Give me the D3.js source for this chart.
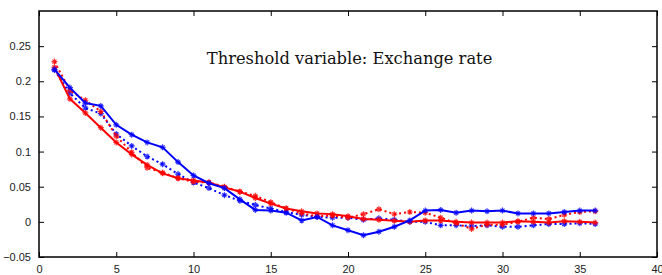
<!DOCTYPE html>
<meta charset="utf-8">
<script src="https://d3js.org/d3.v7.min.js"></script>
<style>
body { margin: 0; background: #fff; }
.tick text { font-family: "Liberation Sans", Arial, sans-serif; font-size: 11px; fill: #222; }
</style>
<div id="chart"></div>
<script>
var horizons = d3.range(1, 37);
var redSolid = [0.220, 0.175, 0.155, 0.134, 0.113, 0.096, 0.081, 0.069, 0.062, 0.059,
  0.056, 0.049, 0.043, 0.034, 0.026, 0.019, 0.015, 0.012, 0.011, 0.008,
  0.004, 0.003, 0.0015, 0.0, 0.002, 0.002, 0.0, -0.001, -0.001, -0.001,
  0.001, 0.0, -0.001, 0.001, 0.0, -0.001];
var redDotted = [0.228, 0.187, 0.173, 0.157, 0.122, 0.099, 0.077, 0.070, 0.062, 0.057,
  0.056, 0.050, 0.043, 0.037, 0.028, 0.019, 0.012, 0.008, 0.009, 0.006,
  0.011, 0.018, 0.011, 0.014, 0.013, 0.006, -0.002, -0.010, -0.004, -0.004,
  0.000, 0.006, 0.004, 0.010, 0.014, 0.015];
var blueSolid = [0.217, 0.191, 0.169, 0.165, 0.138, 0.124, 0.113, 0.106, 0.085, 0.066,
  0.055, 0.048, 0.032, 0.017, 0.016, 0.013, 0.002, 0.007, -0.005, -0.012,
  -0.019, -0.014, -0.007, 0.002, 0.016, 0.017, 0.013, 0.016, 0.015, 0.016,
  0.012, 0.012, 0.012, 0.014, 0.016, 0.016];
var blueDotted = [0.216, 0.183, 0.162, 0.154, 0.125, 0.108, 0.093, 0.082, 0.068, 0.056,
  0.048, 0.038, 0.030, 0.024, 0.019, 0.014, 0.010, 0.007, 0.006, 0.006,
  0.003, 0.005, 0.003, 0.000, 0.000, -0.005, -0.005, -0.006, -0.005, -0.007,
  -0.007, -0.005, -0.003, -0.003, -0.002, -0.003];
var xTicks = [0, 5, 10, 15, 20, 25, 30, 35, 40];
var yTicks = [-0.05, 0, 0.05, 0.1, 0.15, 0.2, 0.25];
var title = "Threshold variable: Exchange rate";

var series = [
  {values: blueDotted, color: "#0000ff", dash: "2,3"},
  {values: redDotted, color: "#ff0000", dash: "2,3"},
  {values: redSolid, color: "#ff0000", dash: null},
  {values: blueSolid, color: "#0000ff", dash: null}
];

var margin = {top: 11, right: 5, bottom: 18, left: 39},
    width = 662 - margin.left - margin.right,
    height = 275 - margin.top - margin.bottom;

var svg = d3.select("#chart").append("svg")
    .attr("width", 662)
    .attr("height", 275)
  .append("g")
    .attr("transform", "translate(" + margin.left + "," + margin.top + ")");

var x = d3.scaleLinear().domain([0, 40]).range([0, width]);
var y = d3.scaleLinear().domain([-0.05, 0.3]).range([height, 0]);
var fmt = function(d) { return d3.format("")(+d.toFixed(2)); };

// axes with inward ticks on all sides
svg.append("g")
    .attr("transform", "translate(0," + height + ")")
    .call(d3.axisBottom(x).tickValues(xTicks).tickSizeInner(-5).tickSizeOuter(0).tickPadding(8).tickFormat(fmt))
    .call(function(g) { g.select(".domain").remove(); });
svg.append("g")
    .call(d3.axisTop(x).tickValues(xTicks).tickSizeInner(-5).tickSizeOuter(0).tickFormat(""))
    .call(function(g) { g.select(".domain").remove(); });
svg.append("g")
    .call(d3.axisLeft(y).tickValues(yTicks).tickSizeInner(-5).tickSizeOuter(0).tickPadding(8).tickFormat(fmt))
    .call(function(g) { g.select(".domain").remove(); });
svg.append("g")
    .attr("transform", "translate(" + width + ",0)")
    .call(d3.axisRight(y).tickValues(yTicks).tickSizeInner(-5).tickSizeOuter(0).tickFormat(""))
    .call(function(g) { g.select(".domain").remove(); });
svg.selectAll(".tick line").attr("stroke", "#000");

svg.append("rect")
    .attr("width", width)
    .attr("height", height)
    .attr("fill", "none")
    .attr("stroke", "#000")
    .attr("stroke-width", 1.5);

svg.append("text")
    .attr("x", x(20.1))
    .attr("y", y(0.25) + 18)
    .attr("text-anchor", "middle")
    .style("font-family", "'DejaVu Serif', serif")
    .style("font-size", "16.3px")
    .style("fill", "#111")
    .text(title);

var line = d3.line()
    .x(function(d, i) { return x(horizons[i]); })
    .y(function(d) { return y(d); });

series.forEach(function(s) {
  svg.append("path")
      .datum(s.values)
      .attr("fill", "none")
      .attr("stroke", s.color)
      .attr("stroke-width", 2)
      .attr("stroke-dasharray", s.dash)
      .attr("d", line);
  svg.append("g").selectAll("path")
    .data(s.values)
    .enter()
    .append("path")
      .attr("transform", function(d, i) { return "translate(" + x(horizons[i]) + "," + y(d) + ")"; })
      .attr("d", "M-3,0H3M0,-3V3M-2,-2L2,2M-2,2L2,-2")
      .attr("stroke", s.color)
      .attr("stroke-width", 1.2)
      .attr("opacity", 0.8);
});
</script>
